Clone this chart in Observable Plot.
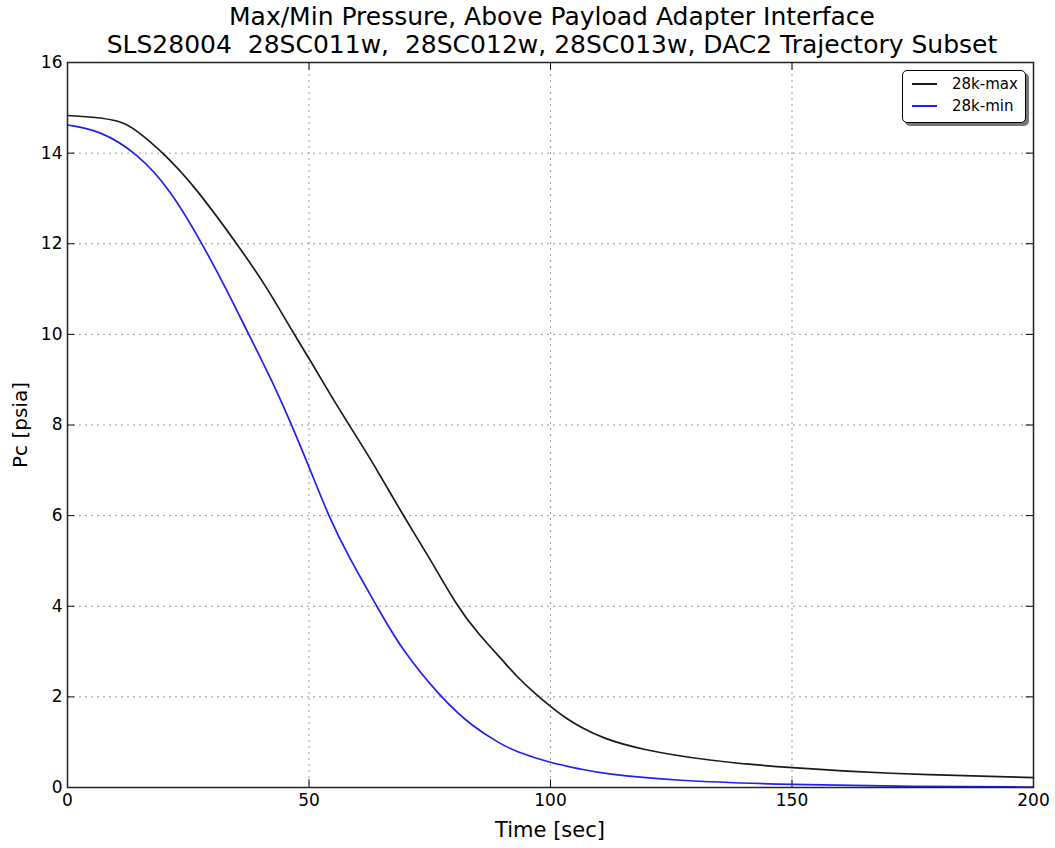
<!DOCTYPE html>
<html>
<head>
<meta charset="utf-8">
<script src="https://cdn.jsdelivr.net/npm/d3@7"></script>
<script src="https://cdn.jsdelivr.net/npm/@observablehq/plot@0.6"></script>
<style>
  body { margin: 0; background: #fff; font-family: "DejaVu Sans", sans-serif; }
  #wrap { position: relative; width: 1055px; height: 848px; overflow: hidden; }
  #chart { position: absolute; left: 0; top: 0; }
  #title { position: absolute; left: 0; top: 3px; width: 1104px; text-align: center; font-size: 25px; line-height: 28px; color: #000; white-space: nowrap; }
  #xlabel { position: absolute; left: 0; width: 1100px; top: 818px; text-align: center; font-size: 21px; line-height: 24px; }
  #ylabel { position: absolute; left: 20px; top: 425px; font-size: 20px; line-height: 24px; transform: translate(-50%, -50%) rotate(-90deg); white-space: nowrap; }
  #legend { position: absolute; left: 902px; top: 70px; width: 124px; height: 53px; border: 1px solid #000; border-radius: 5px; background: #fff; box-shadow: 3px 3px 0 #777; font-size: 15px; box-sizing: border-box; }
  .row { position: absolute; left: 9px; height: 20px; display: flex; align-items: center; }
  .sw { width: 25px; height: 2px; margin-right: 15px; }
</style>
</head>
<body>
<div id="wrap">
  <div id="chart"></div>
  <div id="title">Max/Min Pressure, Above Payload Adapter Interface<br>SLS28004&nbsp; 28SC011w,&nbsp; 28SC012w, 28SC013w, DAC2 Trajectory Subset</div>
  <div id="xlabel">Time [sec]</div>
  <div id="ylabel">Pc [psia]</div>
  <div id="legend"></div>
</div>
<script>
const seriesNames = ["28k-max", "28k-min"];
const seriesColors = ["#1a1a1a", "#2020f0"];
const xTicks = [0, 50, 100, 150, 200];
const yTicks = [0, 2, 4, 6, 8, 10, 12, 14, 16];

const maxTime = [0, 5, 11, 14.4, 19.9, 26.1, 35.1, 41.3, 46.9, 51, 54.5, 58.6, 63.4, 69.6, 74.5, 80.7, 84.8, 90.3, 93, 97, 100.2, 103, 106.2, 111, 118.2, 132.4, 150.1, 168.1, 200];
const maxPc   = [14.83, 14.8, 14.72, 14.5, 14.0, 13.3, 12.0, 11.04, 10.0, 9.3, 8.65, 7.95, 7.14, 5.98, 5.15, 3.99, 3.42, 2.78, 2.45, 2.05, 1.77, 1.54, 1.33, 1.08, 0.85, 0.59, 0.43, 0.31, 0.22];

const minTime = [0, 6.8, 14.4, 21.3, 27.9, 33.1, 37.5, 42.7, 46.5, 50.3, 54.1, 57.9, 64.1, 68.9, 77.2, 84.1, 89.6, 92.4, 100.3, 106.2, 111, 125.3, 150.1, 175, 200];
const minPc   = [14.62, 14.5, 14.0, 13.2, 12.0, 10.96, 10.0, 8.9, 7.98, 7.0, 5.98, 5.15, 3.99, 3.09, 1.99, 1.32, 0.97, 0.81, 0.53, 0.41, 0.30, 0.15, 0.06, 0.02, 0.01];

const maxData = maxTime.map((t, i) => ({t, v: maxPc[i]}));
const minData = minTime.map((t, i) => ({t, v: minPc[i]}));

const chart = Plot.plot({
  width: 1055,
  height: 848,
  marginTop: 62,
  marginBottom: 61,
  marginLeft: 67,
  marginRight: 22,
  style: { fontFamily: "DejaVu Sans, sans-serif", fontSize: "17px", color: "#000", background: "#fff", overflow: "visible" },
  x: { domain: [0, 200] },
  y: { domain: [0, 16] },
  marks: [
    Plot.gridX(xTicks, { stroke: "#999", strokeOpacity: 1, strokeDasharray: "2,4", strokeWidth: 1 }),
    Plot.gridY(yTicks, { stroke: "#999", strokeOpacity: 1, strokeDasharray: "2,4", strokeWidth: 1 }),
    Plot.axisX({ ticks: xTicks, tickSize: 0, tickPadding: 6, label: null, fontSize: 17 }),
    Plot.axisY({ ticks: yTicks, tickSize: 0, tickPadding: 5, label: null, fontSize: 17 }),
    Plot.ruleX(xTicks, { x: d => d, y1: 0, y2: 0.17, stroke: "#000" }),
    Plot.ruleX(xTicks, { x: d => d, y1: 15.83, y2: 16, stroke: "#000" }),
    Plot.ruleY(yTicks, { y: d => d, x1: 0, x2: 1.5, stroke: "#000" }),
    Plot.ruleY(yTicks, { y: d => d, x1: 198.5, x2: 200, stroke: "#000" }),
    Plot.line(maxData, { x: "t", y: "v", stroke: seriesColors[0], strokeWidth: 1.7, curve: "basis" }),
    Plot.line(minData, { x: "t", y: "v", stroke: seriesColors[1], strokeWidth: 1.7, curve: "basis" }),
    Plot.frame({ stroke: "#222", strokeWidth: 1.5 })
  ]
});
document.getElementById("chart").appendChild(chart);

const leg = document.getElementById("legend");
seriesNames.forEach((name, i) => {
  const row = document.createElement("div");
  row.className = "row";
  row.style.top = (3 + i * 22) + "px";
  const sw = document.createElement("span");
  sw.className = "sw";
  sw.style.background = seriesColors[i];
  const lab = document.createElement("span");
  lab.textContent = name;
  row.appendChild(sw);
  row.appendChild(lab);
  leg.appendChild(row);
});
</script>
</body>
</html>
